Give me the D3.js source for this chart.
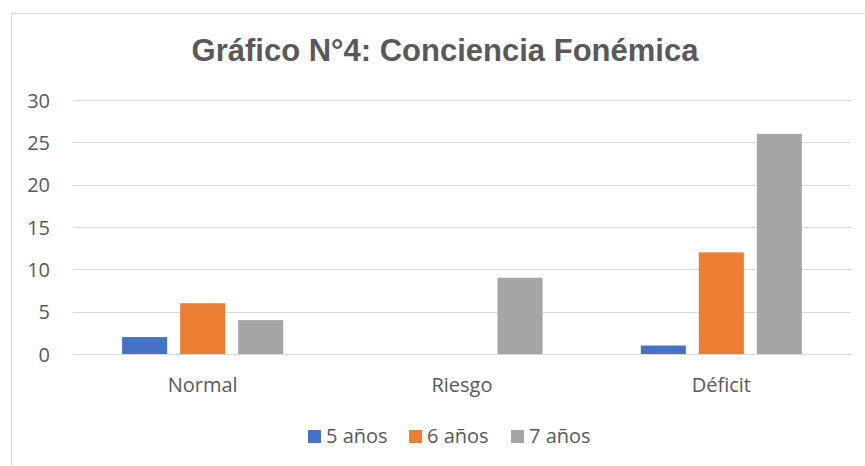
<!DOCTYPE html>
<html>
<head>
<meta charset="utf-8">
<script src="https://cdn.jsdelivr.net/npm/d3@7"></script>
<style>
  body { margin: 0; background: #fff; }
  .chart { width: 865px; height: 466px; }
</style>
</head>
<body>
<div class="chart"></div>
<script>
// data
const categories = ['Normal', 'Riesgo', 'Déficit'];
const series = ['5 años', '6 años', '7 años'];
const colors = ['#4472C4', '#ED7D31', '#A5A5A5'];
const values5 = [2, 0, 1];
const values6 = [6, 0, 12];
const values7 = [4, 9, 26];
const yTicks = [0, 5, 10, 15, 20, 25, 30];

const width = 865, height = 466;
const svg = d3.select('.chart').append('svg')
    .attr('width', width)
    .attr('height', height);

// chart frame
svg.append('rect')
    .attr('x', 11.5).attr('y', 13.5)
    .attr('width', 880).attr('height', 480)
    .attr('fill', 'none')
    .attr('stroke', '#D9D9D9');

const plotLeft = 73, plotRight = 851, plotTop = 100, plotBottom = 354;

const x0 = d3.scaleBand().domain(categories).range([plotLeft, plotRight]).padding(0);
const x1 = d3.scaleBand().domain(series).range([0, x0.bandwidth()])
    .paddingInner(0.224).paddingOuter(0.847);
const y = d3.scaleLinear().domain([0, 30]).range([plotBottom, plotTop]);

// gridlines
svg.append('g').selectAll('line')
    .data(yTicks)
    .join('line')
    .attr('x1', plotLeft).attr('x2', plotRight)
    .attr('y1', d => Math.round(y(d)) + 0.5)
    .attr('y2', d => Math.round(y(d)) + 0.5)
    .attr('stroke', '#D9D9D9')
    .attr('stroke-width', 1);

// y tick labels
svg.append('g').selectAll('text')
    .data(yTicks)
    .join('text')
    .attr('x', 50)
    .attr('y', d => y(d) + 7.5)
    .attr('text-anchor', 'end')
    .attr('font-family', 'Open Sans, sans-serif')
    .attr('font-size', 20)
    .attr('fill', '#595959')
    .text(d => d);

// bars
const rows = categories.map((c, i) => ({cat: c, vals: [values5[i], values6[i], values7[i]]}));
const groups = svg.append('g').selectAll('g')
    .data(rows)
    .join('g')
    .attr('transform', d => `translate(${x0(d.cat)},0)`);

groups.selectAll('rect')
    .data(d => d.vals.map((v, j) => ({s: series[j], v: v, c: colors[j]})))
    .join('rect')
    .attr('x', d => x1(d.s))
    .attr('y', d => y(d.v))
    .attr('width', x1.bandwidth())
    .attr('height', d => plotBottom - y(d.v))
    .attr('fill', d => d.c);

// redraw the baseline over the bars
svg.append('line')
    .attr('x1', plotLeft).attr('x2', plotRight)
    .attr('y1', Math.round(y(0)) + 0.5).attr('y2', Math.round(y(0)) + 0.5)
    .attr('stroke', '#D9D9D9');

// category labels
svg.append('g').selectAll('text')
    .data(categories)
    .join('text')
    .attr('x', d => x0(d) + x0.bandwidth() / 2)
    .attr('y', 392)
    .attr('text-anchor', 'middle')
    .attr('font-family', 'Open Sans, sans-serif')
    .attr('font-size', 20)
    .attr('fill', '#595959')
    .text(d => d);

// title
svg.append('text')
    .attr('x', 445)
    .attr('y', 61)
    .attr('text-anchor', 'middle')
    .attr('font-family', 'Liberation Sans, Arial, sans-serif')
    .attr('font-weight', 'bold')
    .attr('font-size', 31)
    .attr('fill', '#595959')
    .text('Gráfico N°4: Conciencia Fonémica');

// legend
const legendX = [308, 409, 511];
const legend = svg.append('g').selectAll('g')
    .data(series)
    .join('g')
    .attr('transform', (d, i) => `translate(${legendX[i]},0)`);

legend.append('rect')
    .attr('x', 0).attr('y', 430)
    .attr('width', 13).attr('height', 13)
    .attr('fill', (d, i) => colors[i]);

legend.append('text')
    .attr('x', 18)
    .attr('y', 443)
    .attr('font-family', 'Open Sans, sans-serif')
    .attr('font-size', 20)
    .attr('fill', '#595959')
    .text(d => d);
</script>
</body>
</html>
